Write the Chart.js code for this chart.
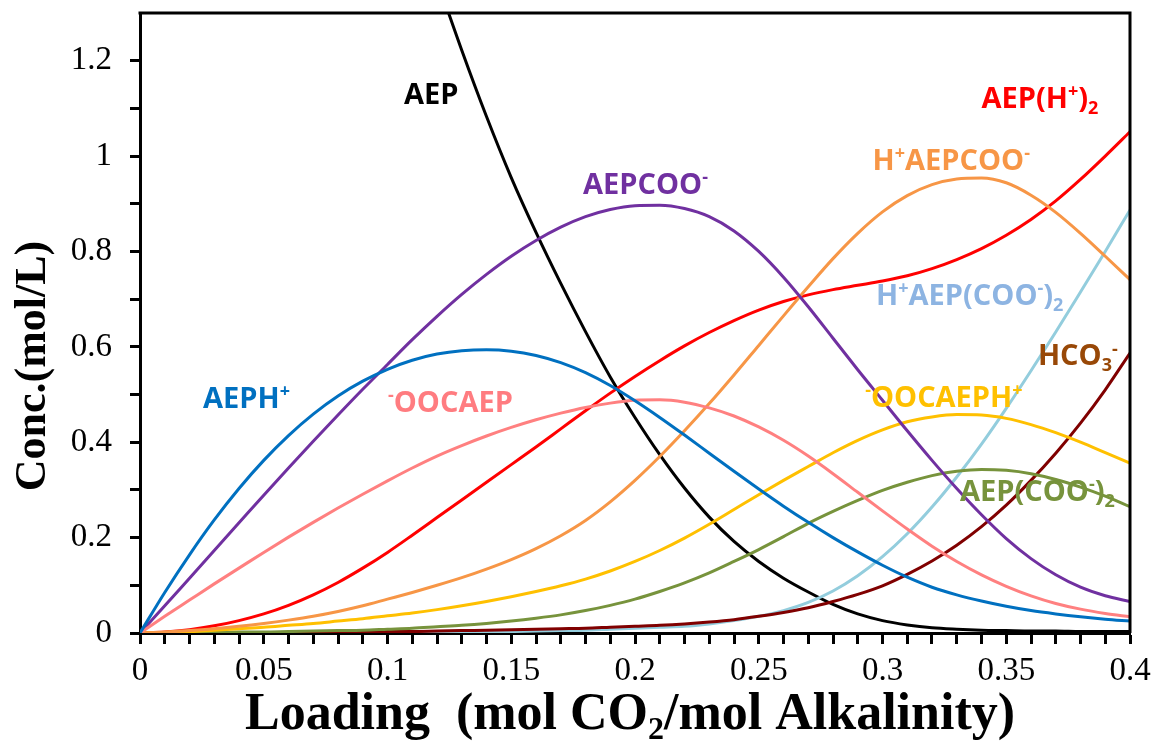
<!DOCTYPE html>
<html>
<head>
<meta charset="UTF-8">
<title>AEP speciation vs loading</title>
<script src="https://cdn.jsdelivr.net/npm/chart.js@4.4.1/dist/chart.umd.min.js"></script>
<style>
  body { margin: 0; background: #fff; }
</style>
</head>
<body>
<canvas id="chart" width="1154" height="745"></canvas>
<script>
// CO2 loading (mol CO2 / mol alkalinity)
const loading = [0, 0.01, 0.02, 0.03, 0.04, 0.05, 0.06, 0.07, 0.08, 0.09, 0.10,
  0.11, 0.12, 0.13, 0.14, 0.15, 0.16, 0.17, 0.18, 0.19, 0.20,
  0.21, 0.22, 0.23, 0.24, 0.25, 0.26, 0.27, 0.28, 0.29, 0.30,
  0.31, 0.32, 0.33, 0.34, 0.35, 0.36, 0.37, 0.38, 0.39, 0.40];

// species concentrations (mol/L)
const aep = [3.40, 3.22, 3.04, 2.86, 2.68, 2.51, 2.33, 2.16, 1.99, 1.83, 1.67,
  1.52, 1.37, 1.222, 1.083, 0.955, 0.840, 0.733, 0.632, 0.537, 0.452,
  0.374, 0.304, 0.243, 0.192, 0.150, 0.115, 0.086, 0.060, 0.040, 0.026,
  0.017, 0.011, 0.008, 0.006, 0.005, 0.004, 0.004, 0.003, 0.003, 0.003];
const aepH = [0, 0.085, 0.164, 0.237, 0.303, 0.362, 0.414, 0.459, 0.497, 0.528, 0.553,
  0.572, 0.585, 0.592, 0.594, 0.591, 0.582, 0.567, 0.546, 0.519, 0.487,
  0.452, 0.415, 0.377, 0.339, 0.302, 0.266, 0.232, 0.200, 0.170, 0.142,
  0.117, 0.096, 0.080, 0.067, 0.056, 0.047, 0.040, 0.034, 0.029, 0.025];
const aepCOO = [0, 0.057, 0.115, 0.173, 0.231, 0.289, 0.346, 0.402, 0.457, 0.511, 0.563,
  0.615, 0.664, 0.710, 0.752, 0.790, 0.823, 0.851, 0.873, 0.888, 0.896,
  0.897, 0.890, 0.873, 0.843, 0.800, 0.746, 0.684, 0.618, 0.552, 0.488,
  0.424, 0.362, 0.303, 0.248, 0.198, 0.156, 0.122, 0.096, 0.078, 0.066];
const aepH2 = [0, 0.002, 0.007, 0.015, 0.026, 0.040, 0.058, 0.080, 0.106, 0.136, 0.169,
  0.205, 0.242, 0.279, 0.316, 0.353, 0.390, 0.428, 0.466, 0.503, 0.538,
  0.571, 0.602, 0.630, 0.655, 0.677, 0.695, 0.709, 0.720, 0.729, 0.738,
  0.749, 0.764, 0.783, 0.806, 0.834, 0.867, 0.906, 0.951, 1.000, 1.051];
const hAepCOO = [0, 0.002, 0.005, 0.009, 0.014, 0.020, 0.027, 0.035, 0.045, 0.057, 0.071,
  0.085, 0.100, 0.116, 0.134, 0.154, 0.177, 0.204, 0.236, 0.275, 0.320,
  0.370, 0.424, 0.481, 0.541, 0.603, 0.665, 0.726, 0.785, 0.838, 0.883,
  0.917, 0.940, 0.952, 0.954, 0.944, 0.918, 0.882, 0.838, 0.790, 0.741];
const oocAep = [0, 0.035, 0.069, 0.103, 0.136, 0.169, 0.201, 0.232, 0.262, 0.291, 0.319,
  0.346, 0.371, 0.393, 0.413, 0.431, 0.447, 0.461, 0.473, 0.482, 0.488,
  0.489, 0.484, 0.472, 0.455, 0.432, 0.404, 0.371, 0.334, 0.295, 0.256,
  0.218, 0.182, 0.150, 0.122, 0.098, 0.078, 0.062, 0.050, 0.041, 0.034];
const oocAepH = [0, 0.001, 0.003, 0.006, 0.009, 0.012, 0.016, 0.020, 0.025, 0.030, 0.036,
  0.042, 0.049, 0.057, 0.066, 0.076, 0.087, 0.099, 0.113, 0.130, 0.150,
  0.173, 0.199, 0.228, 0.259, 0.290, 0.320, 0.349, 0.378, 0.404, 0.426,
  0.443, 0.453, 0.458, 0.457, 0.450, 0.437, 0.420, 0.400, 0.378, 0.356];
const aepCOO2 = [0, 0, 0.001, 0.001, 0.002, 0.002, 0.003, 0.004, 0.005, 0.006, 0.008,
  0.010, 0.013, 0.016, 0.020, 0.025, 0.031, 0.038, 0.047, 0.058, 0.071,
  0.087, 0.105, 0.126, 0.150, 0.175, 0.202, 0.230, 0.255, 0.278, 0.299,
  0.316, 0.330, 0.339, 0.343, 0.341, 0.334, 0.322, 0.306, 0.287, 0.265];
const hAepCOO2 = [0, 0, 0, 0, 0, 0, 0, 0, 0, 0, 0.001,
  0.001, 0.001, 0.002, 0.002, 0.003, 0.004, 0.005, 0.006, 0.008, 0.010,
  0.012, 0.014, 0.019, 0.026, 0.035, 0.047, 0.064, 0.088, 0.120, 0.160,
  0.208, 0.264, 0.327, 0.396, 0.471, 0.550, 0.631, 0.715, 0.800, 0.887];
const hco3 = [0, 0, 0, 0.001, 0.001, 0.001, 0.001, 0.002, 0.002, 0.002, 0.003,
  0.003, 0.004, 0.005, 0.006, 0.007, 0.008, 0.009, 0.010, 0.012, 0.014,
  0.016, 0.019, 0.023, 0.028, 0.035, 0.043, 0.053, 0.066, 0.081, 0.099,
  0.123, 0.151, 0.184, 0.223, 0.268, 0.320, 0.377, 0.440, 0.510, 0.587];

const series = [
  { name: 'AEPH+', values: aepH, color: '#0070C0' },
  { name: '-OOCAEP', values: oocAep, color: '#FF8080' },
  { name: 'AEPCOO-', values: aepCOO, color: '#7030A0' },
  { name: 'H+AEPCOO-', values: hAepCOO, color: '#F79646' },
  { name: '-OOCAEPH+', values: oocAepH, color: '#FFC000' },
  { name: 'AEP(COO-)2', values: aepCOO2, color: '#77933C' },
  { name: 'AEP(H+)2', values: aepH2, color: '#FF0000' },
  { name: 'HCO3-', values: hco3, color: '#800000' },
  { name: 'H+AEP(COO-)2', values: hAepCOO2, color: '#93CDDD' },
  { name: 'AEP', values: aep, color: '#000000' }
];

// in-plot species labels: [text, ''|'sup'|'sub'] pieces, anchored at data coords (left, baseline)
const labels = [
  { parts: [['AEP', '']], x: 0.1067, y: 1.110, color: '#000000' },
  { parts: [['AEPCOO', ''], ['-', 'sup']], x: 0.179, y: 0.921, color: '#7030A0' },
  { parts: [['AEP(H', ''], ['+', 'sup'], [')', ''], ['2', 'sub']], x: 0.340, y: 1.101, color: '#FF0000' },
  { parts: [['H', ''], ['+', 'sup'], ['AEPCOO', ''], ['-', 'sup']], x: 0.296, y: 0.971, color: '#F79646' },
  { parts: [['H', ''], ['+', 'sup'], ['AEP(COO', ''], ['-', 'sup'], [')', ''], ['2', 'sub']], x: 0.2974, y: 0.688, color: '#8DB4E2' },
  { parts: [['HCO', ''], ['3', 'sub'], ['-', 'sup']], x: 0.3628, y: 0.562, color: '#984807' },
  { parts: [['-', 'sup'], ['OOCAEPH', ''], ['+', 'sup']], x: 0.293, y: 0.474, color: '#FFC000' },
  { parts: [['AEPH', ''], ['+', 'sup']], x: 0.0255, y: 0.472, color: '#0070C0' },
  { parts: [['-', 'sup'], ['OOCAEP', '']], x: 0.1002, y: 0.464, color: '#FF7C80' },
  { parts: [['AEP(COO', ''], ['-', 'sup'], [')', ''], ['2', 'sub']], x: 0.3313, y: 0.277, color: '#77933C' }
];

function richText(ctx, parts, x, y, size, family, align) {
    const small = Math.round(size * 0.62);
    const fontFor = k => `bold ${k ? small : size}px ${family}`;
    let w = 0;
    parts.forEach(([t, k]) => { ctx.font = fontFor(k); w += ctx.measureText(t).width; });
    let cx = align === 'center' ? x - w / 2 : x;
    parts.forEach(([t, k]) => {
        ctx.font = fontFor(k);
        const dy = k === 'sup' ? -size * 0.36 : (k === 'sub' ? size * 0.2 : 0);
        ctx.fillText(t, cx, y + dy);
        cx += ctx.measureText(t).width;
    });
}

const decor = {
    id: 'decor',
    afterDraw(chart) {
        const { ctx, chartArea: a, scales: { x, y } } = chart;
        ctx.save();
        // top and right frame
        ctx.strokeStyle = '#000';
        ctx.lineWidth = 3;
        ctx.beginPath();
        ctx.moveTo(a.left - 1.5, a.top);
        ctx.lineTo(a.right, a.top);
        ctx.lineTo(a.right, a.bottom);
        ctx.stroke();

        ctx.textBaseline = 'alphabetic';
        labels.forEach(l => {
            ctx.fillStyle = l.color;
            richText(ctx, l.parts, x.getPixelForValue(l.x), y.getPixelForValue(l.y), 29, '"Open Sans", sans-serif', 'left');
        });

        // axis titles
        ctx.fillStyle = '#000';
        richText(ctx, [['Loading  (mol CO', ''], ['2', 'sub'], ['/mol Alkalinity)', '']], 630, 729, 52, '"Liberation Serif", serif', 'center');
        ctx.translate(45, 366);
        ctx.rotate(-Math.PI / 2);
        richText(ctx, [['Conc.(mol/L)', '']], 0, 0, 44, '"Liberation Serif", serif', 'center');
        ctx.restore();
    }
};

const tickFont = { family: 'Liberation Serif', size: 33 };

new Chart(document.getElementById('chart'), {
    type: 'line',
    data: {
        datasets: series.map(s => ({
            label: s.name,
            data: loading.map((v, i) => ({ x: v, y: s.values[i] })),
            borderColor: s.color,
            borderWidth: 3,
            pointRadius: 0,
            fill: false,
            cubicInterpolationMode: 'monotone'
        }))
    },
    options: {
        responsive: false,
        animation: false,
        layout: { padding: { top: 13, right: 24, left: 0, bottom: 0 } },
        plugins: { legend: { display: false }, tooltip: { enabled: false } },
        scales: {
            x: {
                type: 'linear', min: 0, max: 0.4,
                ticks: {
                    stepSize: 0.01, autoSkip: false, maxRotation: 0, minRotation: 0,
                    font: tickFont, color: '#000', padding: 8,
                    callback: v => Math.round(v * 100) % 5 === 0 ? String(+v.toFixed(2)) : ''
                },
                grid: { drawOnChartArea: false, tickLength: 11, tickWidth: 3, tickColor: '#000' },
                border: { color: '#000', width: 3 },
                afterFit(s) { s.height = 112; s.paddingLeft = 0; s.paddingRight = 0; }
            },
            y: {
                min: 0, max: 1.3,
                ticks: {
                    stepSize: 0.1, font: tickFont, color: '#000', padding: 18,
                    callback: v => Math.round(v * 10) % 2 === 0 ? String(+v.toFixed(1)) : ''
                },
                afterBuildTicks(s) { s.ticks = s.ticks.filter(t => t.value < 1.25); },
                grid: { drawOnChartArea: false, tickLength: 10, tickWidth: 3, tickColor: '#000' },
                border: { color: '#000', width: 3 },
                afterFit(s) { s.width = 140; s.paddingTop = 0; s.paddingBottom = 0; }
            }
        }
    },
    plugins: [decor]
});
</script>
</body>
</html>
